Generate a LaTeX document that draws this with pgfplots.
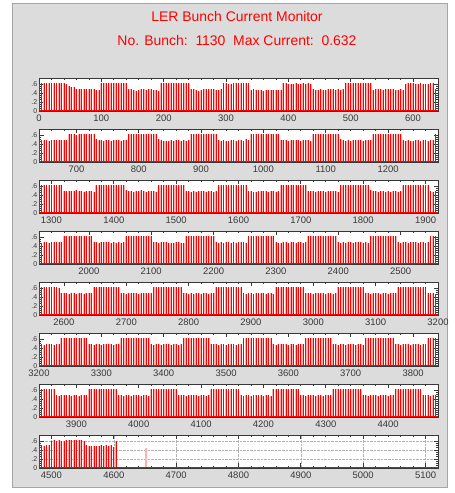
\documentclass[border=0pt]{standalone}
\usepackage{fontspec}
\setmainfont{Liberation Sans}
\usepackage{pgfplots}
\usepackage{pgfplotstable}
\pgfplotsset{compat=1.18}
\definecolor{bggray}{HTML}{DCDCDC}
\definecolor{barpink}{HTML}{FFB0B0}
\definecolor{framegray}{HTML}{383838}

% bunch currents, one value every 4 buckets, 160 slots per panel
\pgfplotstableread[row sep=\\]{y\\
.60\\.62\\.62\\.62\\.62\\.62\\.62\\.62\\.62\\.62\\.61\\.59\\
.55\\.52\\.54\\.49\\.49\\.49\\.49\\.49\\.49\\.49\\.48\\.47\\.46\\
.62\\.62\\.61\\.62\\.62\\.62\\.62\\.62\\.62\\.62\\.62\\
.49\\.48\\.47\\.45\\.47\\.48\\.48\\.47\\.48\\.48\\.47\\.46\\.44\\
.62\\.62\\.62\\.62\\.62\\.62\\.62\\.62\\.62\\.62\\.62\\.61\\
.49\\.49\\.47\\.45\\.47\\.48\\.48\\.48\\.48\\.48\\.47\\.47\\.48\\
.62\\.61\\.60\\.60\\.62\\.62\\.62\\.62\\.62\\.62\\.61\\
.47\\.48\\.47\\.47\\.46\\.45\\.46\\.47\\.46\\.47\\.47\\.47\\.47\\
.61\\.62\\.60\\.59\\.60\\.61\\.59\\.60\\.61\\.60\\.61\\.60\\
.48\\.47\\.47\\.48\\.46\\.47\\.48\\.49\\.48\\.47\\.48\\.47\\.48\\
.61\\.62\\.62\\.62\\.62\\.62\\.62\\.62\\.62\\.62\\.62\\
.47\\.48\\.49\\.48\\.47\\.48\\.49\\.48\\.48\\.47\\.46\\.49\\.47\\
.60\\.61\\.62\\.61\\.59\\.60\\.62\\.60\\.59\\.60\\.62\\.62\\
.49\\
}\panelA

\pgfplotstableread[row sep=\\]{y\\
.48\\.48\\.48\\.48\\.47\\.48\\.48\\.49\\.48\\.48\\.48\\.48\\
.62\\.61\\.62\\.60\\.62\\.61\\.62\\.62\\.61\\.62\\.61\\
.50\\.49\\.48\\.47\\.48\\.48\\.47\\.48\\.49\\.48\\.47\\.48\\.49\\
.62\\.62\\.62\\.62\\.62\\.62\\.62\\.62\\.62\\.62\\.62\\.61\\
.50\\.49\\.47\\.46\\.47\\.48\\.47\\.48\\.49\\.47\\.48\\.46\\.49\\
.62\\.62\\.61\\.62\\.62\\.62\\.62\\.61\\.62\\.62\\.62\\
.48\\.47\\.49\\.47\\.46\\.48\\.48\\.47\\.49\\.48\\.47\\.50\\.48\\
.62\\.62\\.61\\.62\\.62\\.62\\.61\\.62\\.62\\.62\\.62\\.61\\
.49\\.48\\.48\\.47\\.48\\.48\\.49\\.48\\.47\\.48\\.49\\.48\\.47\\
.62\\.62\\.62\\.61\\.62\\.62\\.62\\.62\\.61\\.62\\.62\\
.50\\.49\\.47\\.48\\.47\\.48\\.48\\.48\\.49\\.47\\.48\\.48\\.49\\
.62\\.62\\.62\\.62\\.61\\.62\\.62\\.62\\.62\\.62\\.62\\.61\\
.48\\.47\\.48\\.47\\.46\\.48\\.48\\.47\\.48\\.48\\.47\\.48\\.48\\
.62\\
}\panelB

\pgfplotstableread[row sep=\\]{y\\
.60\\.62\\.61\\.62\\.62\\.62\\.61\\.62\\.62\\.61\\
.48\\.49\\.48\\.49\\.48\\.50\\.49\\.48\\.47\\.49\\.48\\.49\\.47\\
.62\\.62\\.61\\.62\\.62\\.62\\.61\\.62\\.62\\.62\\.62\\.61\\
.50\\.49\\.48\\.47\\.48\\.49\\.50\\.48\\.47\\.48\\.49\\.48\\.47\\
.62\\.61\\.62\\.62\\.62\\.62\\.62\\.62\\.61\\.62\\.62\\
.49\\.48\\.47\\.48\\.47\\.48\\.49\\.48\\.47\\.48\\.48\\.47\\.48\\
.61\\.62\\.62\\.62\\.61\\.62\\.62\\.62\\.62\\.62\\.61\\.62\\
.48\\.49\\.47\\.47\\.48\\.48\\.49\\.48\\.47\\.48\\.48\\.47\\.48\\
.62\\.62\\.62\\.61\\.62\\.62\\.62\\.62\\.62\\.61\\.62\\
.48\\.49\\.48\\.47\\.48\\.49\\.48\\.47\\.48\\.49\\.48\\.48\\.47\\
.62\\.62\\.61\\.62\\.62\\.62\\.62\\.61\\.62\\.62\\.62\\.61\\
.50\\.49\\.48\\.47\\.48\\.48\\.47\\.48\\.47\\.48\\.48\\.47\\.49\\
.61\\.62\\.62\\.62\\.62\\.62\\.62\\.62\\.62\\.62\\.62\\
.48\\.47\\.48\\
}\panelC

\pgfplotstableread[row sep=\\]{y\\
.48\\.47\\.48\\.48\\.47\\.48\\.48\\.48\\.49\\.49\\
.61\\.62\\.62\\.61\\.62\\.62\\.62\\.62\\.62\\.62\\.62\\.61\\
.49\\.48\\.47\\.48\\.49\\.48\\.48\\.47\\.48\\.47\\.48\\.47\\.48\\
.62\\.62\\.62\\.63\\.62\\.61\\.62\\.62\\.62\\.62\\.62\\
.48\\.48\\.47\\.48\\.48\\.48\\.47\\.46\\.47\\.48\\.48\\.47\\.47\\
.61\\.62\\.62\\.61\\.62\\.62\\.62\\.61\\.62\\.62\\.62\\.61\\
.48\\.47\\.48\\.47\\.48\\.48\\.47\\.48\\.47\\.48\\.49\\.48\\.47\\
.62\\.62\\.62\\.62\\.62\\.62\\.61\\.62\\.62\\.62\\.62\\
.48\\.47\\.47\\.48\\.48\\.47\\.48\\.49\\.47\\.48\\.48\\.47\\.48\\
.62\\.62\\.61\\.62\\.62\\.62\\.62\\.62\\.61\\.62\\.62\\.62\\
.48\\.47\\.48\\.47\\.48\\.48\\.47\\.48\\.48\\.49\\.47\\.48\\.47\\
.62\\.62\\.62\\.62\\.62\\.62\\.62\\.62\\.62\\.61\\.62\\
.48\\.47\\.48\\.48\\.47\\.48\\.49\\.48\\.47\\.48\\.48\\.47\\.48\\
.62\\.61\\.62\\
}\panelD

\pgfplotstableread[row sep=\\]{y\\
.61\\.62\\.62\\.62\\.61\\.62\\.62\\.61\\.60\\
.49\\.48\\.48\\.47\\.48\\.48\\.47\\.48\\.48\\.47\\.48\\.49\\.48\\
.62\\.62\\.61\\.62\\.62\\.62\\.62\\.61\\.62\\.62\\.62\\
.49\\.48\\.47\\.48\\.48\\.49\\.48\\.47\\.48\\.48\\.49\\.48\\.48\\
.62\\.62\\.62\\.62\\.62\\.62\\.62\\.62\\.61\\.62\\.62\\.61\\
.49\\.48\\.47\\.48\\.47\\.48\\.48\\.47\\.48\\.48\\.47\\.48\\.49\\
.62\\.62\\.61\\.62\\.62\\.62\\.62\\.62\\.62\\.61\\.62\\
.48\\.47\\.48\\.48\\.47\\.48\\.48\\.49\\.48\\.47\\.48\\.48\\.47\\
.62\\.62\\.62\\.61\\.62\\.62\\.62\\.62\\.62\\.62\\.61\\.62\\
.49\\.48\\.48\\.47\\.48\\.48\\.49\\.48\\.47\\.48\\.48\\.47\\.48\\
.62\\.61\\.62\\.62\\.62\\.62\\.61\\.62\\.62\\.62\\.62\\
.48\\.48\\.47\\.48\\.49\\.48\\.47\\.48\\.48\\.47\\.48\\.49\\.48\\
.62\\.62\\.62\\.62\\.61\\.62\\.62\\.62\\.62\\.62\\.62\\.61\\
.49\\.48\\.48\\.47\\
}\panelE

\pgfplotstableread[row sep=\\]{y\\
.48\\.48\\.47\\.48\\.49\\.48\\.47\\.48\\.48\\
.62\\.62\\.62\\.61\\.62\\.62\\.62\\.62\\.62\\.61\\.62\\
.49\\.48\\.47\\.48\\.48\\.47\\.48\\.48\\.49\\.48\\.47\\.48\\.48\\
.62\\.62\\.61\\.62\\.62\\.62\\.62\\.62\\.62\\.61\\.62\\.62\\
.48\\.47\\.48\\.48\\.47\\.48\\.49\\.48\\.47\\.48\\.48\\.47\\.48\\
.62\\.62\\.62\\.62\\.61\\.62\\.62\\.62\\.62\\.62\\.61\\
.49\\.48\\.48\\.47\\.48\\.48\\.47\\.48\\.49\\.48\\.47\\.48\\.48\\
.62\\.61\\.62\\.62\\.62\\.62\\.62\\.61\\.62\\.62\\.62\\.62\\
.48\\.47\\.48\\.48\\.49\\.48\\.47\\.48\\.48\\.47\\.48\\.48\\.49\\
.62\\.62\\.62\\.61\\.62\\.62\\.62\\.62\\.62\\.62\\.61\\
.48\\.48\\.47\\.48\\.48\\.47\\.48\\.49\\.48\\.47\\.48\\.48\\.47\\
.62\\.62\\.62\\.62\\.62\\.61\\.62\\.62\\.62\\.62\\.62\\.62\\
.49\\.48\\.47\\.48\\.48\\.48\\.47\\.48\\.49\\.48\\.47\\.48\\.48\\
.62\\.61\\.62\\.62\\
}\panelF

\pgfplotstableread[row sep=\\]{y\\
.62\\.62\\.61\\.62\\.62\\.62\\.61\\
.48\\.47\\.48\\.48\\.49\\.48\\.47\\.48\\.48\\.47\\.48\\.49\\.48\\
.62\\.62\\.62\\.62\\.61\\.62\\.62\\.62\\.62\\.62\\.62\\.61\\
.48\\.48\\.47\\.48\\.48\\.47\\.48\\.49\\.48\\.47\\.48\\.48\\.47\\
.62\\.62\\.61\\.62\\.62\\.62\\.62\\.62\\.62\\.61\\.62\\
.49\\.48\\.48\\.47\\.48\\.48\\.49\\.48\\.47\\.48\\.48\\.47\\.48\\
.62\\.62\\.62\\.62\\.62\\.61\\.62\\.62\\.62\\.62\\.62\\.62\\
.48\\.47\\.48\\.48\\.47\\.48\\.48\\.49\\.48\\.47\\.48\\.48\\.47\\
.62\\.61\\.62\\.62\\.62\\.62\\.62\\.61\\.62\\.62\\.62\\
.48\\.48\\.47\\.48\\.49\\.48\\.47\\.48\\.48\\.47\\.48\\.49\\.48\\
.62\\.62\\.62\\.62\\.61\\.62\\.62\\.62\\.62\\.62\\.62\\.61\\
.49\\.48\\.47\\.48\\.48\\.48\\.47\\.48\\.49\\.48\\.47\\.48\\.48\\
.62\\.62\\.62\\.61\\.62\\.62\\.62\\.62\\.62\\.62\\.61\\
.48\\.49\\.48\\.47\\.48\\.48\\
}\panelG

\pgfplotsset{
  bunchpanel/.style={
    width=399bp, height=33bp, scale only axis,
    anchor=south west,
    ymin=0, ymax=0.73,
    ytick={0,0.2,0.4,0.6}, yticklabels={0,.2,.4,.6},
    minor y tick num=3,
    xtick distance=100, minor x tick num=4,
    scaled x ticks=false,
    /pgf/number format/1000 sep={},
    /pgf/number format/assume math mode=true,
    tick align=inside,
    major tick length=4.5bp, minor tick length=2.2bp,
    axis line style={framegray, line width=0.8bp},
    every tick/.style={framegray, line width=0.7bp},
    xticklabel style={font=\fontsize{9.5}{10}\selectfont, text=framegray},
    yticklabel style={font=\fontsize{7}{7}\selectfont, text=framegray, inner xsep=1.5bp},
    axis background/.style={fill=white},
  },
  pinkbar/.style={ycomb, no markers, draw=barpink, line width=1.9bp},
  redbar/.style={ycomb, no markers, draw=red, line width=0.7bp},
  baseline/.style={no markers, draw=red, line width=1bp},
}

\begin{document}
\begin{tikzpicture}[x=1bp,y=1bp]
\path[use as bounding box, fill=white] (0,0) rectangle (455,493);
\fill[bggray, draw=gray!70] (12,6) rectangle (447,490);
\node[text=red, font=\fontsize{14}{16}\selectfont] at (237,476) {LER Bunch Current Monitor};
\node[text=red, font=\fontsize{14}{16}\selectfont] at (237,452) {No. Bunch:\ \ 1130\ \ Max Current:\ \ 0.632};

\begin{axis}[bunchpanel, at={(39bp,382bp)}, xmin=0, xmax=640]
\addplot[pinkbar] table[x expr=4*\coordindex, y=y] {\panelA};
\addplot[redbar] table[x expr=4*\coordindex, y=y] {\panelA};
\addplot[baseline] coordinates {(0,0) (640,0)};
\end{axis}

\begin{axis}[bunchpanel, at={(39bp,331bp)}, xmin=640, xmax=1280]
\addplot[pinkbar] table[x expr=640+4*\coordindex, y=y] {\panelB};
\addplot[redbar] table[x expr=640+4*\coordindex, y=y] {\panelB};
\addplot[baseline] coordinates {(640,0) (1280,0)};
\end{axis}

\begin{axis}[bunchpanel, at={(39bp,280bp)}, xmin=1280, xmax=1920]
\addplot[pinkbar] table[x expr=1280+4*\coordindex, y=y] {\panelC};
\addplot[redbar] table[x expr=1280+4*\coordindex, y=y] {\panelC};
\addplot[baseline] coordinates {(1280,0) (1920,0)};
\end{axis}

\begin{axis}[bunchpanel, at={(39bp,229bp)}, xmin=1920, xmax=2560]
\addplot[pinkbar] table[x expr=1920+4*\coordindex, y=y] {\panelD};
\addplot[redbar] table[x expr=1920+4*\coordindex, y=y] {\panelD};
\addplot[baseline] coordinates {(1920,0) (2560,0)};
\end{axis}

\begin{axis}[bunchpanel, at={(39bp,178bp)}, xmin=2560, xmax=3200]
\addplot[pinkbar] table[x expr=2560+4*\coordindex, y=y] {\panelE};
\addplot[redbar] table[x expr=2560+4*\coordindex, y=y] {\panelE};
\addplot[baseline] coordinates {(2560,0) (3200,0)};
\end{axis}

\begin{axis}[bunchpanel, at={(39bp,127bp)}, xmin=3200, xmax=3840]
\addplot[pinkbar] table[x expr=3200+4*\coordindex, y=y] {\panelF};
\addplot[redbar] table[x expr=3200+4*\coordindex, y=y] {\panelF};
\addplot[baseline] coordinates {(3200,0) (3840,0)};
\end{axis}

\begin{axis}[bunchpanel, at={(39bp,76bp)}, xmin=3840, xmax=4480]
\addplot[pinkbar] table[x expr=3840+4*\coordindex, y=y] {\panelG};
\addplot[redbar] table[x expr=3840+4*\coordindex, y=y] {\panelG};
\addplot[baseline] coordinates {(3840,0) (4480,0)};
\end{axis}

\begin{axis}[bunchpanel, at={(39bp,25bp)}, xmin=4480, xmax=5120,
  grid=major, major grid style={densely dotted, gray!60, line width=0.5bp}]
\addplot[pinkbar] coordinates {
(4480,.48) (4484,.50) (4488,.49) (4492,.50) (4496,.50) (4500,.60) (4504,.61)
(4508,.60) (4512,.62) (4516,.60) (4520,.60) (4524,.61) (4528,.62) (4532,.61)
(4536,.62) (4540,.62) (4544,.62) (4548,.61) (4552,.60) (4556,.50) (4560,.49)
(4564,.48) (4568,.49) (4572,.48) (4576,.49) (4580,.50) (4584,.49) (4588,.50)
(4592,.49) (4596,.50) (4600,.47) (4604,.60) (4652,.45)};
\addplot[redbar] coordinates {
(4480,.48) (4484,.50) (4488,.49) (4492,.50) (4496,.50) (4500,.60) (4504,.61)
(4508,.60) (4512,.62) (4516,.60) (4520,.60) (4524,.61) (4528,.62) (4532,.61)
(4536,.62) (4540,.62) (4544,.62) (4548,.61) (4552,.60) (4556,.50) (4560,.49)
(4564,.48) (4568,.49) (4572,.48) (4576,.49) (4580,.50) (4584,.49) (4588,.50)
(4592,.49) (4596,.50) (4600,.47) (4604,.60)};
\addplot[baseline] coordinates {(4480,0) (5120,0)};
\end{axis}
\end{tikzpicture}
\end{document}
